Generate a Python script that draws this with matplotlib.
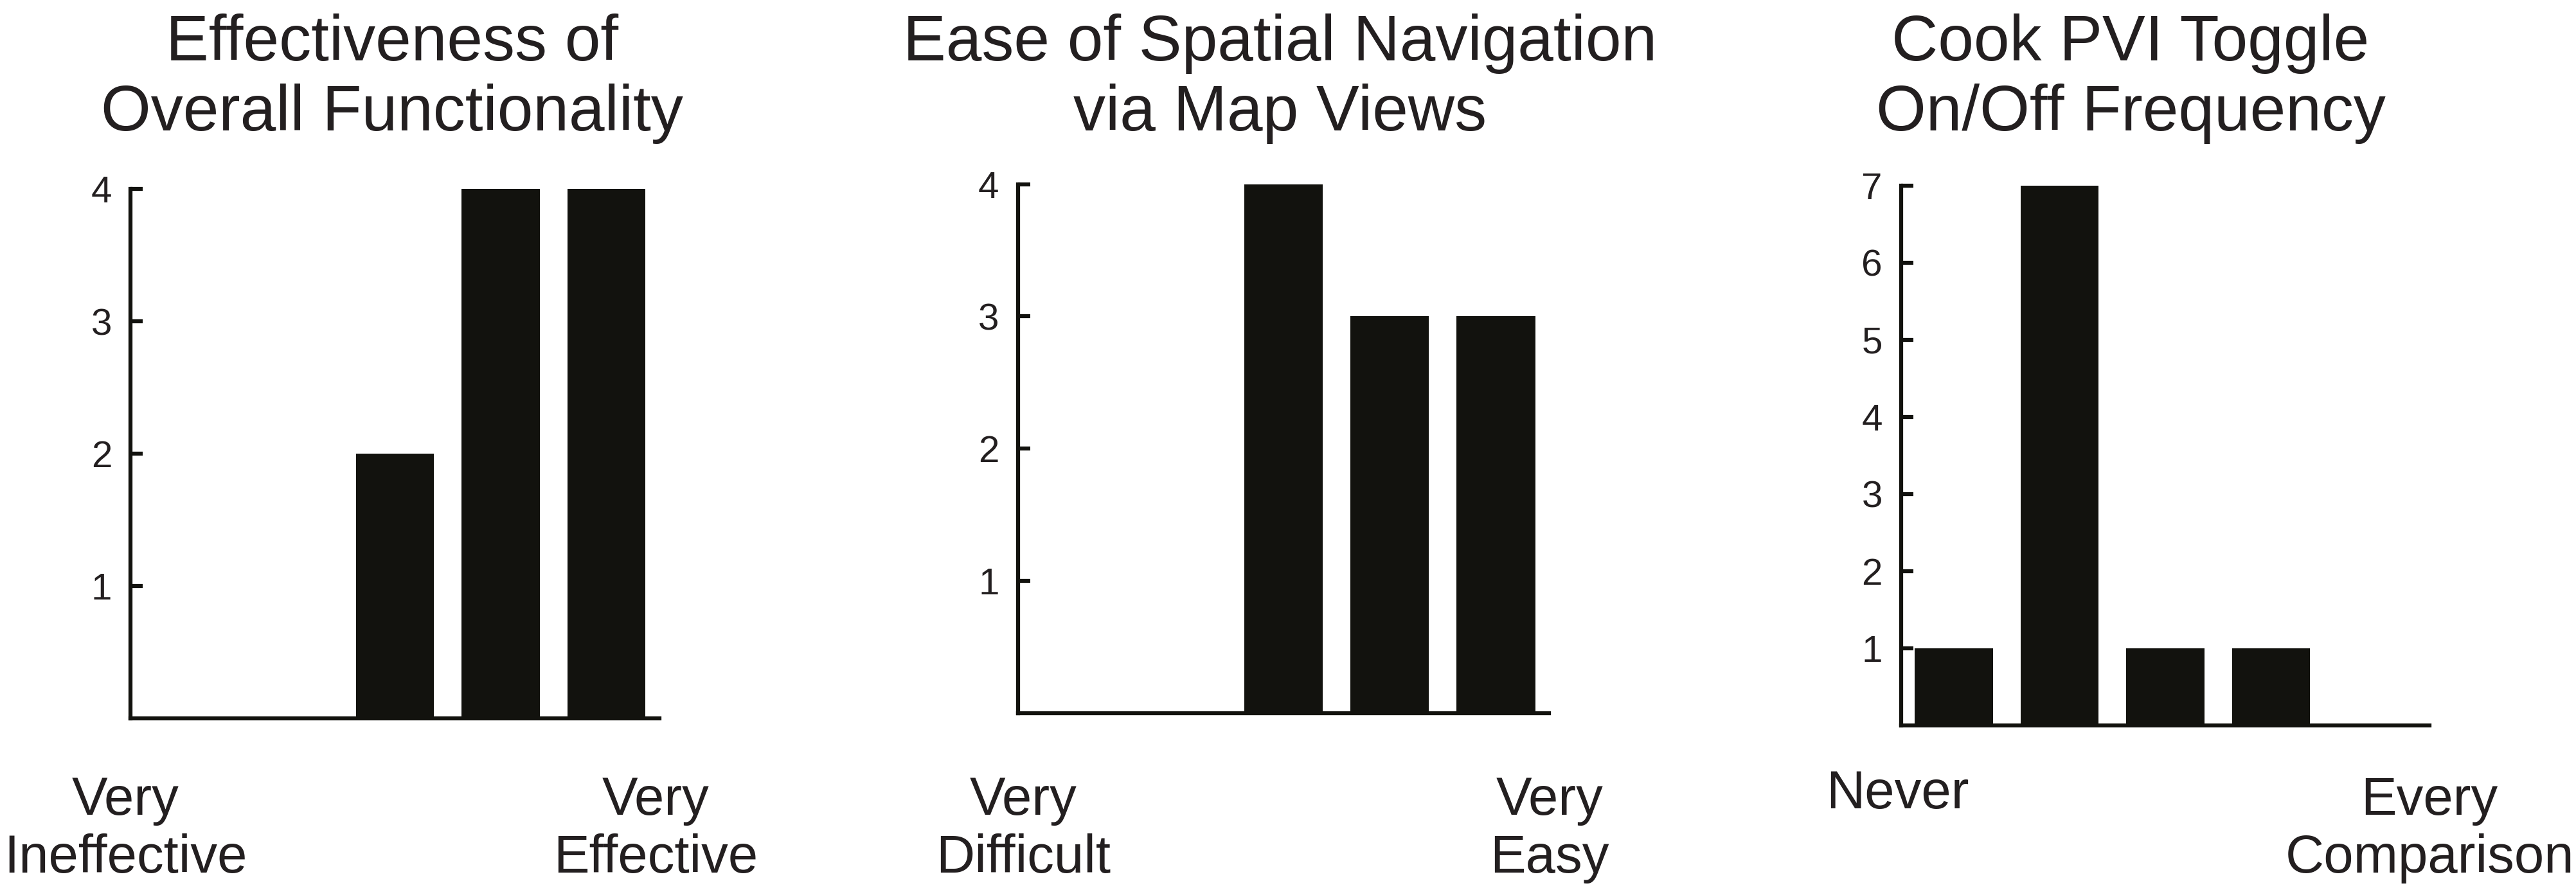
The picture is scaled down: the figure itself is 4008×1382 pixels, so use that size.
import matplotlib

matplotlib.use("Agg")
import matplotlib.pyplot as plt

plt.rcParams["font.family"] = ["Liberation Sans", "DejaVu Sans"]

# data
scale_points = [1, 2, 3, 4, 5]
effectiveness = [0, 0, 2, 4, 4]
navigation = [0, 0, 4, 3, 3]
toggle_freq = [1, 7, 1, 1, 0]

titles = [
    "Effectiveness of\nOverall Functionality",
    "Ease of Spatial Navigation\nvia Map Views",
    "Cook PVI Toggle\nOn/Off Frequency",
]
low_labels = ["Very\nIneffective", "Very\nDifficult", "Never"]
high_labels = ["Very\nEffective", "Very\nEasy", "Every\nComparison"]
y_tops = [4, 4, 7]

# layout in figure pixels (4008 x 1382)
W, H = 4008, 1382
# (left, right, bottom spine y, top y) in px from top-left
boxes = [
    (203.4, 1025.6, 1118.1, 294.2),
    (1583.7, 2410.2, 1109.8, 286.7),
    (2958.0, 3780.0, 1128.7, 289.0),
]
title_x = [610, 1992, 3315]
label_x = [(195, 1020), (1592, 2411), (2952, 3780)]
title_base = 203    # baseline of the last title line
label_base = 1258   # baseline of the first label line
label_step = 100    # line spacing of labels

bar_color = "#12120e"
text_color = "#231f20"
lw = 4.5
title_fs = 72
label_fs = 60
tick_fs = 42


def place_label(fig, x, text):
    n = text.count("\n")
    fig.text(x / W, 1 - (label_base + n * label_step) / H, text,
             ha="center", va="baseline", fontsize=label_fs,
             color=text_color, linespacing=1.2, multialignment="center")


fig = plt.figure(figsize=(W / 100, H / 100), dpi=100)

series = [effectiveness, navigation, toggle_freq]
for i, values in enumerate(series):
    left, right, bottom, top = boxes[i]
    ax = fig.add_axes([left / W, 1 - bottom / H, (right - left) / W,
                       (bottom - top) / H])
    ax.bar(scale_points, values, width=0.74, color=bar_color, linewidth=0)
    ax.set_xlim(0.5, 5.5)
    ax.set_ylim(0, y_tops[i])
    ax.set_yticks(range(1, y_tops[i] + 1))
    ax.set_xticks([])
    ax.spines["top"].set_visible(False)
    ax.spines["right"].set_visible(False)
    for side in ["left", "bottom"]:
        ax.spines[side].set_linewidth(lw)
        ax.spines[side].set_color(bar_color)
        ax.spines[side].set_capstyle("projecting")
    ax.tick_params(axis="y", direction="in", length=14, width=lw,
                   color=bar_color, labelsize=tick_fs, labelcolor=text_color,
                   pad=21)
    ax.patch.set_visible(False)

    fig.text(title_x[i] / W, 1 - title_base / H, titles[i], ha="center",
             va="baseline", fontsize=title_fs, color=text_color,
             linespacing=1.2)
    lx, hx = label_x[i]
    place_label(fig, lx, low_labels[i])
    place_label(fig, hx, high_labels[i])

fig.savefig("out.png", dpi=100, facecolor="white")
